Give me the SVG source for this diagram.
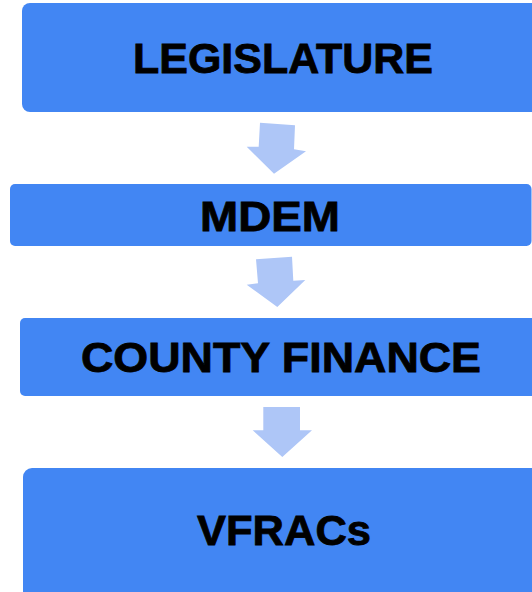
<svg xmlns="http://www.w3.org/2000/svg" width="532" height="592" viewBox="0 0 532 592">
<style>
.box{fill:#4286F3;}
.arr{fill:#AEC6F7;}
.lbl{font-family:"Liberation Sans",Arial,sans-serif;font-weight:bold;fill:#000;stroke:#000;stroke-width:0.8;text-anchor:middle;}
</style>
<rect width="532" height="592" fill="#FFFFFF"/>
<g id="connectors">
<polygon class="arr" points="260,122.7 295,125.3 294,149.3 306,151.3 274,173.7 246.7,146.7 258.7,146.7"/>
<polygon class="arr" points="256,259.3 292,256.7 293.3,280.7 305.3,280 277.3,307 246.7,284.7 258,283.3"/>
<polygon class="arr" points="263.3,407 300,407 300,430.3 312,430.3 282.3,457 252.7,430.3 263.3,430.3"/>
</g>
<g id="legislature">
<rect class="box" x="22" y="3" width="530" height="109" rx="8"/>
<text class="lbl" x="283" y="73" font-size="43" textLength="300" lengthAdjust="spacingAndGlyphs">LEGISLATURE</text>
</g>
<g id="mdem">
<rect class="box" x="10" y="184" width="521.5" height="62" rx="5"/>
<text class="lbl" x="270" y="231" font-size="43" textLength="140" lengthAdjust="spacingAndGlyphs">MDEM</text>
</g>
<g id="county-finance">
<rect class="box" x="20" y="318" width="532" height="78" rx="5"/>
<text class="lbl" x="281" y="372" font-size="42" textLength="400" lengthAdjust="spacingAndGlyphs">COUNTY FINANCE</text>
</g>
<g id="vfracs">
<rect class="box" x="23" y="468" width="530" height="140" rx="9"/>
<text class="lbl" x="284" y="545" font-size="42" textLength="174" lengthAdjust="spacingAndGlyphs">VFRACs</text>
</g>
</svg>
